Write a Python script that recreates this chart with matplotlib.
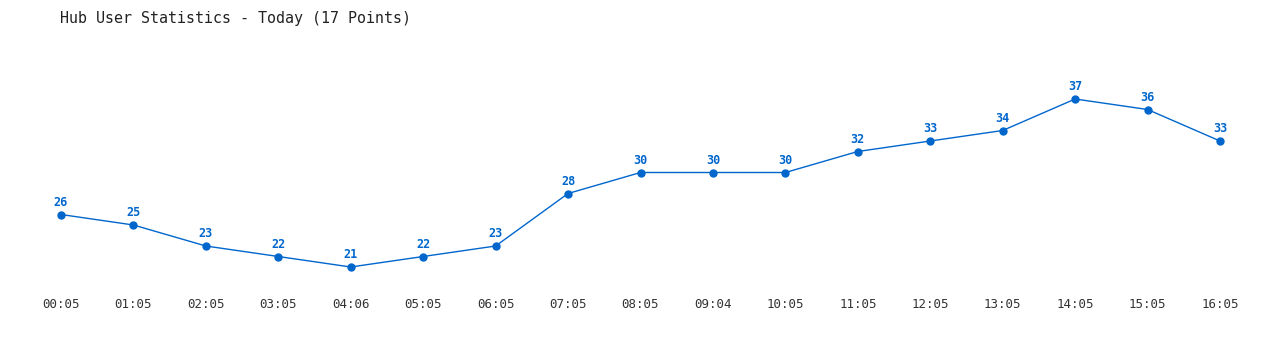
import matplotlib
matplotlib.use("Agg")
import matplotlib.pyplot as plt

times = ["00:05", "01:05", "02:05", "03:05", "04:06", "05:05", "06:05", "07:05", "08:05",
         "09:04", "10:05", "11:05", "12:05", "13:05", "14:05", "15:05", "16:05"]
users = [26, 25, 23, 22, 21, 22, 23, 28, 30, 30, 30, 32, 33, 34, 37, 36, 33]

blue = "#0066cc"

fig = plt.figure(figsize=(12.8, 3.5), dpi=100)
ax = fig.add_axes([61 / 1280, (350 - 267) / 350, (1220 - 61) / 1280, (267 - 99) / 350])

x = list(range(len(users)))
ax.plot(x, users, color=blue, linewidth=1, marker="o", markersize=5, clip_on=False)

for xi, v in zip(x, users):
    ax.annotate(str(v), (xi, v), xytext=(0, 4), textcoords="offset points",
                ha="center", va="bottom", color=blue, fontsize=8.5,
                fontweight="bold", family="DejaVu Sans Mono")

ax.set_xlim(0, len(users) - 1)
ax.set_ylim(21, 37)
ax.set_xticks(x)
ax.set_xticklabels(times, family="DejaVu Sans Mono", fontsize=9, color="#333333")
ax.tick_params(axis="x", length=0, pad=22)
ax.set_yticks([])
for s in ax.spines.values():
    s.set_visible(False)

fig.text(60 / 1280, 1 - 18 / 350, "Hub User Statistics - Today (17 Points)",
         family="DejaVu Sans Mono", fontsize=10.8, color="#222222", va="center", ha="left")

fig.savefig("out.png", dpi=100)
